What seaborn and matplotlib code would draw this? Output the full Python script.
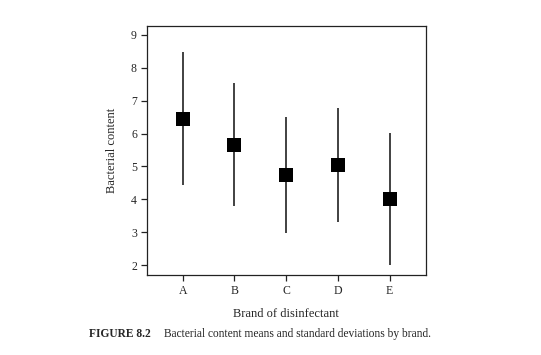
import numpy as np
import pandas as pd
import matplotlib
matplotlib.use("Agg")
import matplotlib.pyplot as plt
import seaborn as sns

# DATA
brands = ["A", "B", "C", "D", "E"]
means = [6.45, 5.66, 4.74, 5.05, 4.01]
sds = [2.03, 1.87, 1.76, 1.73, 2.02]
yticks = [2, 3, 4, 5, 6, 7, 8, 9]

df = pd.DataFrame({"Brand": brands, "Mean": means, "SD": sds})

sns.set_style("ticks")
plt.rcParams["font.family"] = ["Liberation Serif", "DejaVu Serif"]

fig = plt.figure(figsize=(5.41, 3.55), dpi=100)
ax = fig.add_axes([0.271, 0.2254, 0.516, 0.7016])

# error bars (mean +/- sd) first, then the means on top
ax.errorbar(df["Brand"], df["Mean"], yerr=df["SD"], fmt="none",
            ecolor="#333333", elinewidth=1.3, capsize=0, zorder=2)
sns.scatterplot(x="Brand", y="Mean", data=df, marker="s", s=90,
                color="black", edgecolor="black", linewidth=0, ax=ax, zorder=3)

ax.set_xlim(-0.7, 4.7)
ax.set_ylim(1.70, 9.27)
ax.set_yticks(yticks)

for side in ["top", "right", "left", "bottom"]:
    ax.spines[side].set_visible(True)
    ax.spines[side].set_linewidth(0.9)
    ax.spines[side].set_color("#222222")

ax.tick_params(axis="both", direction="out", length=4, width=0.9,
               labelsize=8.5, pad=3, color="#222222")
ax.set_xlabel("Brand of disinfectant", fontsize=9, labelpad=8)
ax.set_ylabel("Bacterial content", fontsize=9, labelpad=9)

# caption
fig.text(0.165, 0.059, "FIGURE 8.2", fontsize=8.3, fontweight="bold",
         va="center", ha="left")
fig.text(0.303, 0.059, "Bacterial content means and standard deviations by brand.",
         fontsize=8.3, va="center", ha="left")

fig.savefig("out.png", dpi=100)
